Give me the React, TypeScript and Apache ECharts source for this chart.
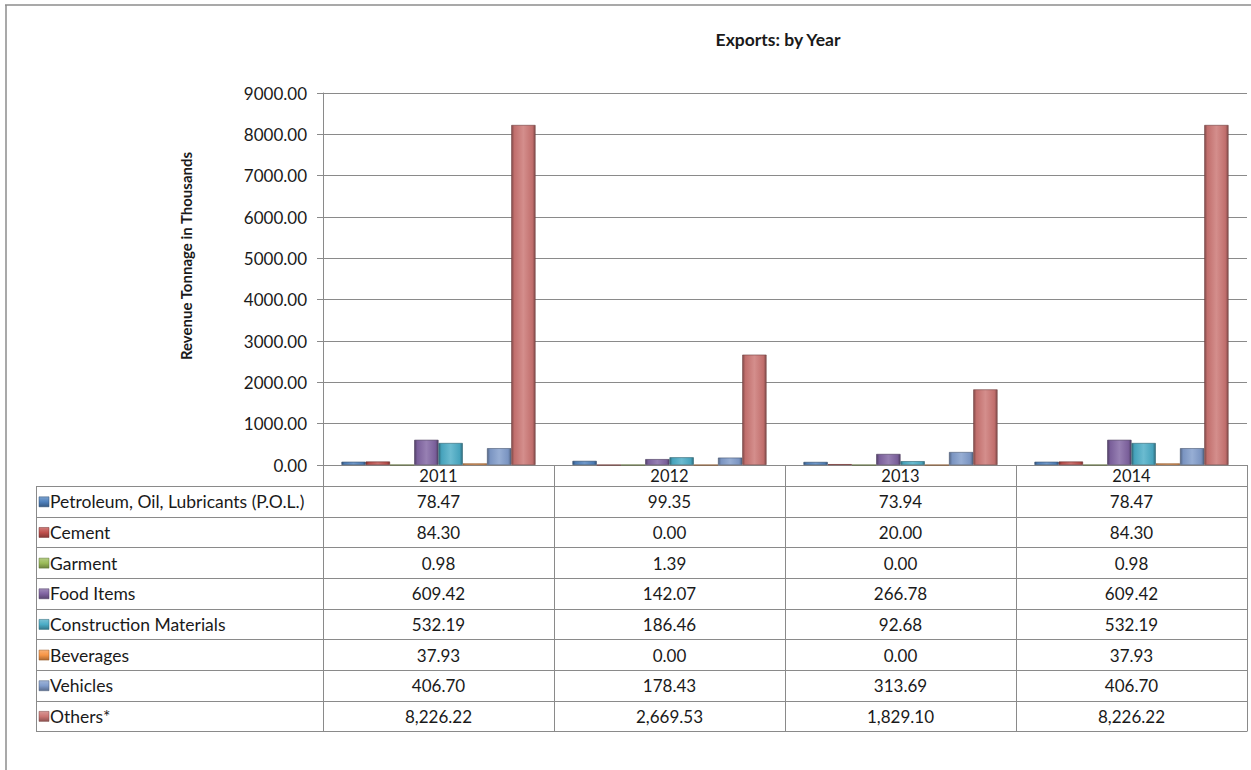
import React, { useEffect, useRef } from "react";
import * as echarts from "echarts";

const years = ["2011", "2012", "2013", "2014"];
const seriesNames = [
  "Petroleum, Oil, Lubricants (P.O.L.)",
  "Cement",
  "Garment",
  "Food Items",
  "Construction Materials",
  "Beverages",
  "Vehicles",
  "Others*",
];
const polValues = [78.47, 99.35, 73.94, 78.47];
const cementValues = [84.3, 0.0, 20.0, 84.3];
const garmentValues = [0.98, 1.39, 0.0, 0.98];
const foodValues = [609.42, 142.07, 266.78, 609.42];
const constructionValues = [532.19, 186.46, 92.68, 532.19];
const beverageValues = [37.93, 0.0, 0.0, 37.93];
const vehicleValues = [406.7, 178.43, 313.69, 406.7];
const othersValues = [8226.22, 2669.53, 1829.1, 8226.22];
const allValues = [
  polValues,
  cementValues,
  garmentValues,
  foodValues,
  constructionValues,
  beverageValues,
  vehicleValues,
  othersValues,
];
const seriesColors = [
  "#4F81BD",
  "#C0504D",
  "#9BBB59",
  "#8064A2",
  "#4BACC6",
  "#F79646",
  "#809CCB",
  "#CB7573",
];
const yMax = 9000;
const yInterval = 1000;

function shade(hex: string, f: number): string {
  const n = parseInt(hex.slice(1), 16);
  let r = (n >> 16) & 255, g = (n >> 8) & 255, b = n & 255;
  if (f >= 0) {
    r = r + (255 - r) * f; g = g + (255 - g) * f; b = b + (255 - b) * f;
  } else {
    r = r * (1 + f); g = g * (1 + f); b = b * (1 + f);
  }
  const h = (v: number) => Math.round(v).toString(16).padStart(2, "0");
  return "#" + h(r) + h(g) + h(b);
}

function barGradient(c: string) {
  return new echarts.graphic.LinearGradient(0, 0, 1, 0, [
    { offset: 0, color: shade(c, -0.35) },
    { offset: 0.12, color: shade(c, -0.05) },
    { offset: 0.5, color: shade(c, 0.18) },
    { offset: 0.88, color: shade(c, -0.05) },
    { offset: 1, color: shade(c, -0.35) },
  ]);
}

const fmt = (v: number) =>
  v.toLocaleString("en-US", { minimumFractionDigits: 2, maximumFractionDigits: 2 });

export default function App() {
  const ref = useRef<HTMLDivElement>(null);
  useEffect(() => {
    if (!ref.current) return;
    const chart = echarts.init(ref.current, undefined, { renderer: "svg" });
    const gridLeft = 323;
    const gridTop = 93;
    const gridW = 924;
    const gridH = 372;
    const headerBottom = 486;
    const rowH = 30.65;
    const tableLeft = 36;
    const colW = gridW / years.length;
    const tableBottom = headerBottom + rowH * seriesNames.length;
    const border = "#8a8a8a";
    const font = "Lato, 'Open Sans', sans-serif";
    const textColor = "#1a1a1a";

    const graphics: any[] = [];
    graphics.push({
      type: "line",
      shape: { x1: 5, y1: 5, x2: 1251, y2: 5 },
      style: { stroke: "#8c8c8c", lineWidth: 1.5 },
    });
    graphics.push({
      type: "line",
      shape: { x1: 6, y1: 5, x2: 6, y2: 770 },
      style: { stroke: "#8c8c8c", lineWidth: 1.5 },
    });
    graphics.push({
      type: "text",
      x: 186,
      y: 256,
      rotation: Math.PI / 2,
      style: {
        text: "Revenue Tonnage in Thousands",
        font: `bold 15px ${font}`,
        fill: textColor,
        align: "center",
        verticalAlign: "middle",
      },
    });
    for (let i = 0; i <= seriesNames.length; i++) {
      const y = Math.round(headerBottom + i * rowH) + 0.5;
      graphics.push({
        type: "line",
        shape: { x1: tableLeft, y1: y, x2: gridLeft + gridW, y2: y },
        style: { stroke: border, lineWidth: 1 },
      });
    }
    const vx = [tableLeft];
    for (let j = 0; j <= years.length; j++) vx.push(gridLeft + j * colW);
    vx.forEach((x) => {
      graphics.push({
        type: "line",
        shape: { x1: Math.round(x) + 0.5, y1: headerBottom, x2: Math.round(x) + 0.5, y2: Math.round(tableBottom) + 0.5 },
        style: { stroke: border, lineWidth: 1 },
      });
    });
    seriesNames.forEach((name, i) => {
      const cy = headerBottom + i * rowH + rowH / 2 + 0.5;
      const c = seriesColors[i];
      graphics.push({
        type: "rect",
        shape: { x: tableLeft + 3, y: cy - 5, width: 10, height: 10 },
        style: {
          fill: new echarts.graphic.LinearGradient(0, 0, 0, 1, [
            { offset: 0, color: shade(c, 0.25) },
            { offset: 0.5, color: c },
            { offset: 1, color: shade(c, -0.3) },
          ]),
          stroke: shade(c, -0.4),
          lineWidth: 0.5,
        },
      });
      graphics.push({
        type: "text",
        x: tableLeft + 14,
        y: cy,
        style: {
          text: name,
          font: `17.5px ${font}`,
          fill: textColor,
          align: "left",
          verticalAlign: "middle",
        },
      });
      allValues[i].forEach((v, j) => {
        graphics.push({
          type: "text",
          x: gridLeft + j * colW + colW / 2,
          y: cy,
          style: {
            text: fmt(v),
            font: `17px ${font}`,
            fill: textColor,
            align: "center",
            verticalAlign: "middle",
          },
        });
      });
    });

    chart.setOption({
      animation: false,
      backgroundColor: "#ffffff",
      title: {
        text: "Exports: by Year",
        left: 773,
        top: 25,
        textAlign: "center",
        textStyle: { fontFamily: font, fontWeight: "bold", fontSize: 17.5, color: textColor },
      },
      grid: { left: gridLeft, top: gridTop, width: gridW, height: gridH },
      xAxis: {
        type: "category",
        data: years,
        axisLine: { show: true, lineStyle: { color: border, width: 1 } },
        axisTick: { show: true, length: 21, lineStyle: { color: border } },
        axisLabel: {
          show: true,
          margin: 2,
          verticalAlign: "top",
          color: textColor,
          fontFamily: font,
          fontSize: 16.5,
        },
      },
      yAxis: {
        type: "value",
        min: 0,
        max: yMax,
        interval: yInterval,
        axisLine: { show: true, lineStyle: { color: border, width: 1 } },
        axisTick: { show: true, length: 6, lineStyle: { color: border } },
        splitLine: { show: true, lineStyle: { color: "#8a8a8a", width: 1.2 } },
        axisLabel: {
          margin: 16,
          color: textColor,
          fontFamily: font,
          fontSize: 17,
          formatter: (v: number) => v.toFixed(2),
        },
      },
      series: seriesNames.map((name, i) => ({
        type: "bar",
        name,
        data: allValues[i],
        barGap: "0%",
        barCategoryGap: "16%",
        itemStyle: {
          color: barGradient(seriesColors[i]),
          borderColor: shade(seriesColors[i], -0.45),
          borderWidth: 0.6,
        },
      })),
      graphic: graphics,
    });
    return () => chart.dispose();
  }, []);
  return (
    <div
      ref={ref}
      style={{ position: "absolute", left: 0, top: 0, width: 1251, height: 770 }}
    />
  );
}
